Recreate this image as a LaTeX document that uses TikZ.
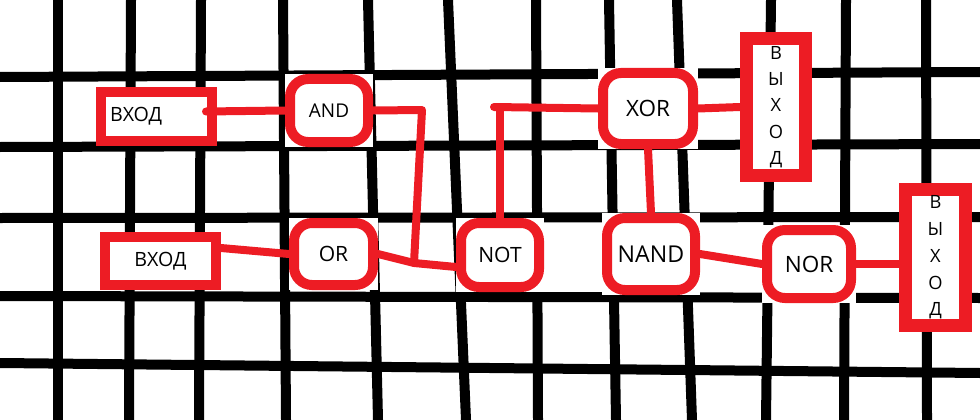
\documentclass[tikz,border=0pt]{standalone}
\usepackage{fontspec}
\setmainfont{Open Sans}
\usetikzlibrary{backgrounds, calc}
\definecolor{paintred}{RGB}{237,28,36}
\tikzset{
  gate/.style     = {draw=paintred, line width=2.5mm, rounded corners=4.5mm, fill=white,
                     inner sep=0pt, align=center},
  inbox/.style    = {draw=paintred, line width=2.5mm, fill=white, inner sep=0pt,
                     minimum width=27.75mm, minimum height=12mm, font=\fontsize{14}{16}\selectfont},
  outbox/.style   = {draw=paintred, line width=3.25mm, fill=white, inner sep=0pt,
                     minimum width=15mm, minimum height=34mm, align=center,
                     font=\fontsize{13}{18.75}\selectfont},
  wire/.style     = {draw=paintred, line width=2mm, line cap=round, line join=round},
  gridline/.style = {line width=2.5mm, black},
}

\begin{document}
\begin{tikzpicture}[x=0.25mm, y=-0.25mm]
\useasboundingbox (0,0) rectangle (980,420);

% inputs
\node[inbox, minimum height=12.25mm, text width=23.25mm, align=left] (in1) at (156.5,116.5) {ВХОД};
\node[inbox] (in2) at (160.5,261) {ВХОД};

% gates
\node[gate, minimum width=19.5mm, minimum height=15.75mm, font=\fontsize{13.5}{16}\selectfont] (and) at (329,110.5) {AND};
\node[gate, minimum width=19.75mm, minimum height=15.5mm, font=\fontsize{15}{18}\selectfont] (or) at (333.5,254) {OR};
\node[gate, minimum width=19.5mm, minimum height=16mm, font=\fontsize{15}{18}\selectfont] (not) at (500,255) {NOT};
\node[gate, minimum width=22.5mm, minimum height=17.75mm, font=\fontsize{16}{19}\selectfont] (xor) at (648,108.5) {XOR};
\node[gate, minimum width=22mm, minimum height=18mm, font=\fontsize{16.5}{19}\selectfont] (nand) at (651,254) {NAND};
\node[gate, minimum width=21mm, minimum height=17mm, font=\fontsize{16}{19}\selectfont] (nor) at (809,264) {NOR};

% outputs
\node[outbox, minimum width=14.75mm, minimum height=34.25mm] (out1) at (776,107) {В\\Ы\\Х\\О\\Д};
\node[outbox, font=\fontsize{13}{19}\selectfont] (out2) at (935.5,257.5) {В\\Ы\\Х\\О\\Д};

% bends of the wires
\coordinate (j1) at (422,110);
\coordinate (j2) at (414,263);
\coordinate (j3) at (494,107);

\draw[wire] ($(in1.east)+(-11,-5)$) -- (and.west);
\draw[wire] ($(in2.east)+(0,-13)$) -- (or.west);
\draw[wire] (and.east) -- (j1) -- (j2) -- ($(not.west)+(0,12)$);
\draw[wire] (or.east) -- (j2);
\draw[wire] (not.north) -- (not.north |- j3);
\draw[wire] (j3) -- (xor.west);
\draw[wire] (xor.east) -- (out1.west);
\draw[wire] (xor.south) -- (nand.north);
\draw[wire] (nand.east) -- (nor.west);
\draw[wire] (nor.east) -- (nor.east -| out2.west);

% grid behind, cleared round the gates
\begin{scope}[on background layer]
  \foreach \a/\b in {58/58, 131/129, 201/199, 283/286, 368/378, 448/466,
                     536/538, 609/616, 677/692, 771/766, 846/844, 926/927}
    \draw[gridline] (\a,0) -- (\b,420);
  \foreach \a/\b in {77/72, 147/144, 218/217, 296/298, 363/373}
    \draw[gridline] (0,\a) -- (980,\b);
  \foreach \g in {and, or, not, xor, nand, nor}
    \fill[white] (\g.north west) rectangle (\g.south east);
\end{scope}

\end{tikzpicture}
\end{document}
